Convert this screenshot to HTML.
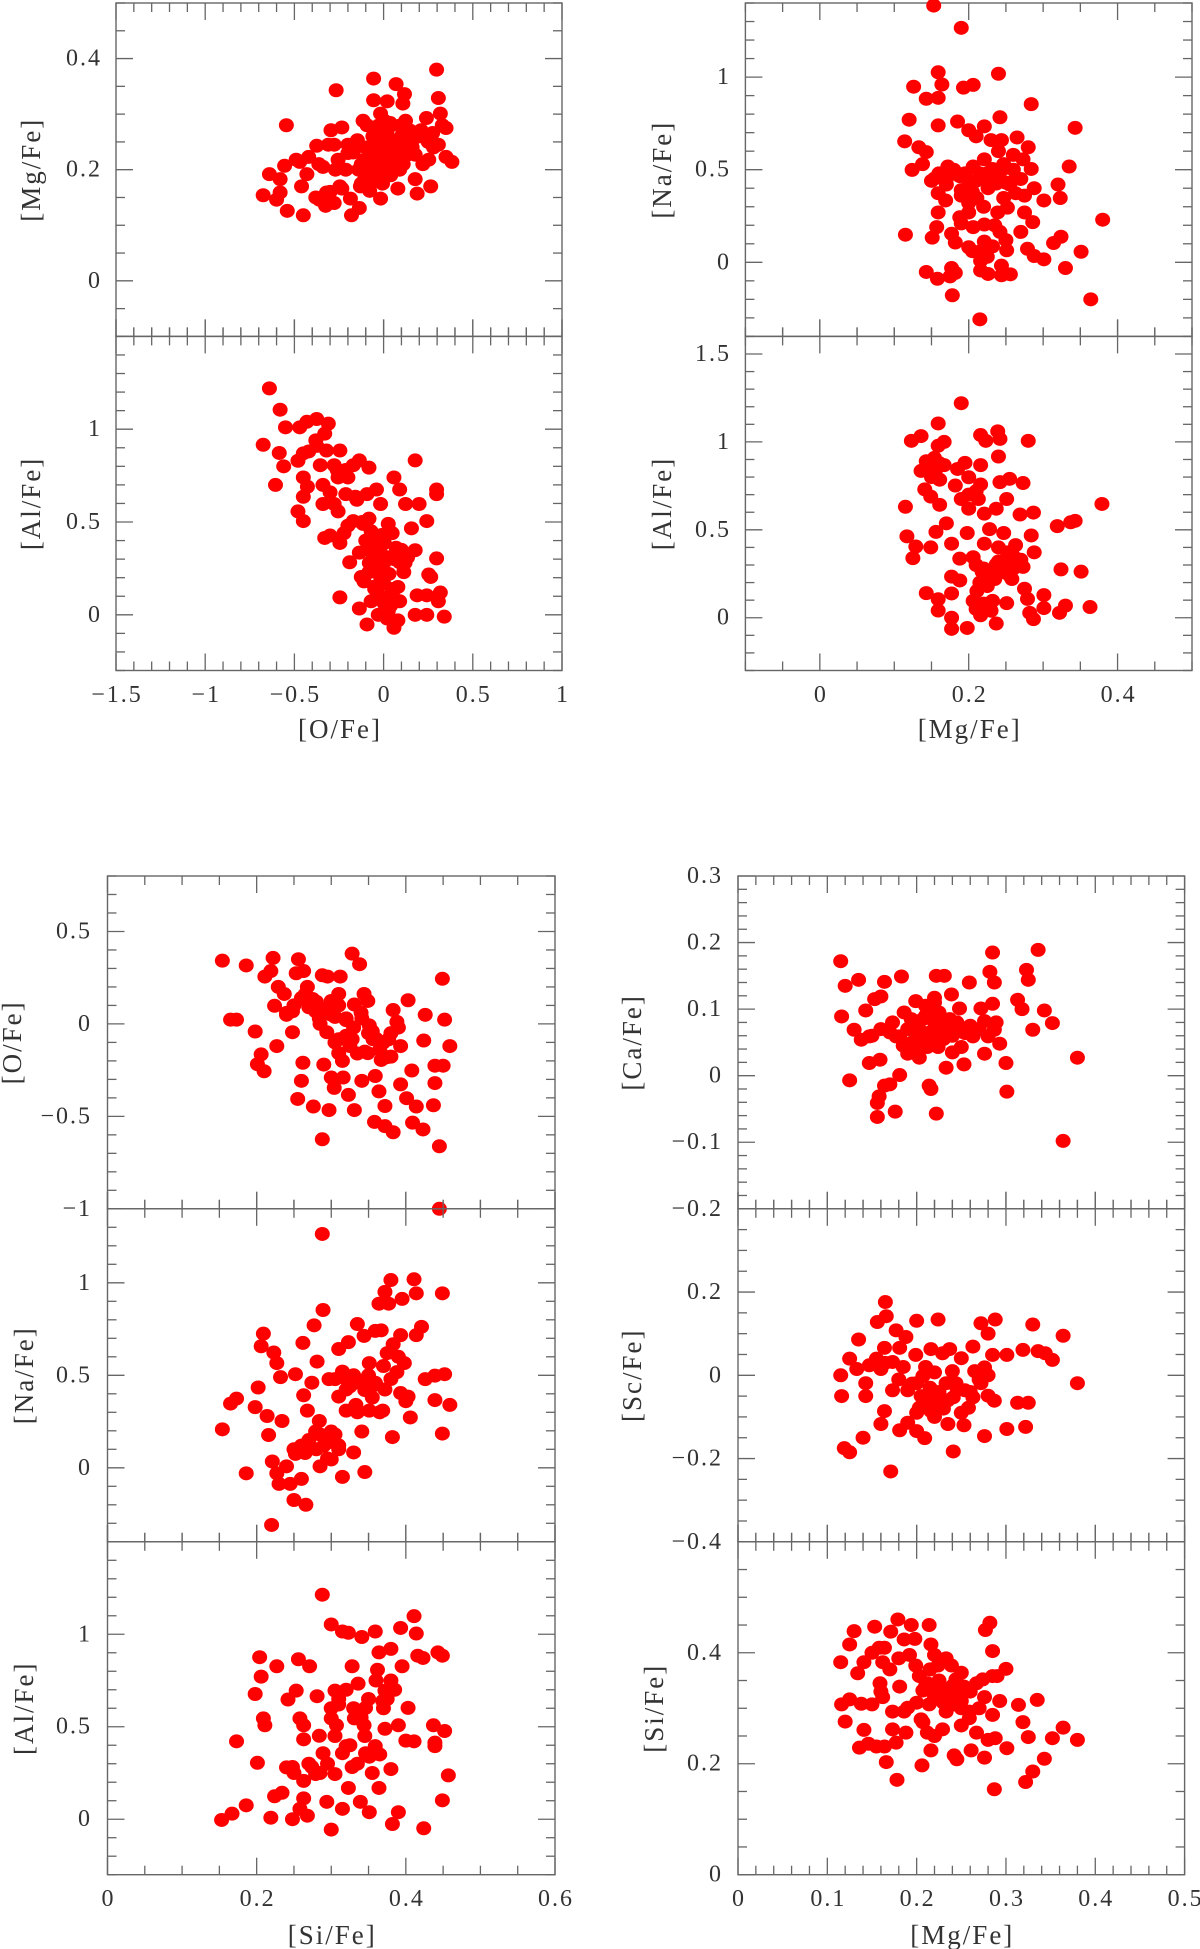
<!DOCTYPE html>
<html><head><meta charset="utf-8"><title>Abundance correlations</title>
<style>
html,body{margin:0;padding:0;background:#fff;}
svg{display:block;}
text{font-family:"Liberation Serif","DejaVu Serif",serif;fill:#333;}
.tl{font-size:24px;letter-spacing:2px;}
.tt{font-size:27px;letter-spacing:2px;}
</style></head>
<body>
<svg id="fig" width="1200" height="1949" viewBox="0 0 1200 1949" xmlns="http://www.w3.org/2000/svg"></svg>
<script>
// ---- data: [O/Fe] vs [Mg/Fe] ----
const p1x=[-0.675,-0.64,-0.58,-0.60,-0.58,-0.555,-0.545,-0.54,-0.47,-0.45,-0.46,-0.43,-0.49,-0.42,-0.375,-0.34,-0.36,-0.325,-0.32,-0.31,-0.295,-0.266,-0.277,-0.255,-0.234,-0.245,-0.212,-0.186,-0.18,-0.147,-0.136,-0.115,-0.104,-0.093,-0.078,-0.056,-0.056,-0.05,-0.04,-0.03,-0.017,-0.017,-0.006,0.004,0.02,0.026,0.048,0.07,0.08,0.09,0.108,0.117,0.123,0.134,0.156,0.177,0.188,0.21,0.24,0.253,0.264,0.275,0.297,0.307,0.307,0.318,0.329,0.35,0.35,0.383,-0.17,-0.125,-0.082,-0.07,0.004,0.037,0.058,0.1,0.134,0.177,-0.277,-0.2,-0.125,-0.05,0.015,0.09,0.004,-0.093,-0.234,-0.363,-0.1,-0.06,-0.02,0.02,0.06,0.1,-0.14,-0.08,-0.03,0.03,0.07,0.12,-0.11,-0.04,0.01,0.05,0.16,0.2,0.25,0.28,-0.3,-0.38,-0.27,-0.13,-0.01,0.04,0.11,0.22,-0.2,0.15];
const p1y=[0.154,0.192,0.183,0.146,0.159,0.207,0.28,0.126,0.214,0.118,0.17,0.192,0.218,0.223,0.243,0.205,0.146,0.135,0.159,0.245,0.271,0.343,0.14,0.218,0.276,0.17,0.2,0.148,0.118,0.253,0.131,0.288,0.218,0.183,0.162,0.364,0.325,0.245,0.21,0.279,0.301,0.148,0.175,0.245,0.323,0.21,0.253,0.354,0.166,0.279,0.319,0.336,0.288,0.227,0.249,0.183,0.157,0.271,0.293,0.218,0.17,0.266,0.38,0.329,0.245,0.301,0.28,0.275,0.223,0.214,0.231,0.21,0.227,0.197,0.288,0.284,0.218,0.245,0.262,0.227,0.245,0.245,0.175,0.266,0.192,0.2,0.227,0.28,0.166,0.21,0.24,0.26,0.23,0.27,0.23,0.26,0.2,0.21,0.19,0.2,0.24,0.25,0.18,0.18,0.26,0.22,0.24,0.26,0.25,0.24,0.16,0.15,0.2,0.17,0.22,0.19,0.21,0.21,0.23,0.27];
// ---- data: [O/Fe] vs [Al/Fe] ----
const p2x=[-0.64,-0.58,-0.55,-0.675,-0.585,-0.56,-0.606,-0.47,-0.43,-0.375,-0.31,-0.33,-0.48,-0.45,-0.375,-0.32,-0.355,-0.45,-0.427,-0.34,-0.45,-0.48,-0.45,-0.245,-0.277,-0.255,-0.277,-0.34,-0.255,-0.212,-0.17,-0.136,-0.082,-0.212,-0.158,-0.093,-0.04,-0.33,-0.3,-0.245,-0.222,-0.2,-0.17,-0.115,-0.082,-0.017,0.058,0.09,0.177,0.123,0.199,0.156,0.242,0.297,0.297,0.297,0.177,0.134,0.113,0.253,0.264,0.188,0.242,0.318,0.307,0.177,0.242,0.34,-0.245,-0.136,-0.093,0.058,0.08,0.026,-0.017,-0.07,-0.05,0.048,-0.125,-0.19,-0.136,-0.082,-0.04,0.004,0.048,0.004,0.07,0.09,0.026,-0.05,-0.082,-0.017,0.09,0.004,-0.1,-0.06,-0.02,0.02,0.06,-0.08,-0.03,0.03,0.1,-0.11,-0.05,0.0,0.05,0.12,-0.07,-0.01,0.04,0.08,-0.03,0.02,-0.12,-0.15,-0.2,-0.26,-0.38,-0.42,-0.3];
const p2y=[1.22,1.105,1.01,0.916,0.872,0.8,0.7,1.01,1.04,1.055,1.03,0.976,0.83,0.87,0.91,0.885,0.806,0.74,0.69,0.7,0.636,0.557,0.505,0.885,0.806,0.74,0.597,0.597,0.557,0.78,0.806,0.832,0.793,0.65,0.636,0.65,0.675,0.414,0.427,0.387,0.44,0.48,0.505,0.49,0.518,0.597,0.74,0.675,0.832,0.597,0.597,0.466,0.505,0.675,0.65,0.304,0.348,0.309,0.23,0.217,0.204,0.105,0.105,0.12,0.073,0,0,-0.01,0.094,0.034,-0.052,-0.07,-0.03,0.02,0.1,0.073,0.152,0.139,0.204,0.283,0.335,0.361,0.309,0.387,0.44,0.283,0.361,0.283,0.49,0.414,0.23,0.204,0.073,0.06,0.4,0.33,0.36,0.31,0.3,0.28,0.25,0.22,0.35,0.18,0.14,0.17,0.12,0.28,0.45,0.43,0.05,0.15,0.0,-0.02,0.5,0.62,0.74,0.78,0.94,0.88,0.66];
// ---- data: [Mg/Fe] vs [Na/Fe] ----
const p3x=[0.153,0.19,0.159,0.126,0.164,0.143,0.159,0.193,0.206,0.24,0.284,0.12,0.159,0.185,0.2,0.221,0.242,0.343,0.114,0.133,0.143,0.244,0.265,0.28,0.335,0.124,0.138,0.154,0.172,0.188,0.206,0.221,0.232,0.247,0.263,0.284,0.273,0.159,0.169,0.19,0.211,0.226,0.247,0.275,0.288,0.301,0.32,0.323,0.38,0.159,0.188,0.206,0.221,0.242,0.239,0.252,0.275,0.286,0.27,0.115,0.151,0.157,0.177,0.182,0.2,0.216,0.232,0.251,0.279,0.288,0.301,0.314,0.324,0.351,0.143,0.158,0.177,0.175,0.182,0.216,0.226,0.244,0.244,0.256,0.33,0.178,0.215,0.364,0.216,0.221,0.2,0.263,0.2,0.237,0.221,0.16,0.17,0.18,0.195,0.21,0.225,0.235,0.25,0.26,0.17,0.19,0.205,0.215,0.23,0.245,0.255,0.15,0.165,0.21,0.23,0.24,0.26,0.27,0.2,0.22,0.19,0.235,0.25,0.205,0.225];
const p3y=[1.386,1.266,1.026,0.948,0.96,0.883,0.888,0.943,0.958,1.018,0.854,0.77,0.739,0.76,0.713,0.734,0.783,0.726,0.653,0.621,0.595,0.66,0.674,0.621,0.517,0.499,0.53,0.452,0.517,0.465,0.517,0.556,0.504,0.53,0.452,0.504,0.556,0.373,0.334,0.36,0.347,0.4,0.347,0.36,0.4,0.334,0.42,0.347,0.23,0.269,0.243,0.19,0.204,0.164,0.269,0.295,0.269,0.217,0.164,0.149,0.133,0.19,0.154,0.107,0.081,0.06,0.086,0.065,0.073,0.034,0.016,0.104,0.138,0.057,-0.052,-0.089,-0.031,-0.076,-0.057,-0.044,-0.063,-0.018,-0.07,-0.065,-0.031,-0.178,-0.308,-0.2,0.008,0.112,0.269,0.373,0.412,0.425,0.452,0.48,0.45,0.5,0.48,0.44,0.48,0.46,0.43,0.5,0.42,0.39,0.38,0.48,0.43,0.5,0.42,0.44,0.47,0.68,0.66,0.6,0.58,0.45,0.32,0.3,0.21,0.2,0.12,0.06,0.03];
// ---- data: [Mg/Fe] vs [Al/Fe] ----
const p4x=[0.19,0.159,0.123,0.136,0.159,0.167,0.216,0.223,0.239,0.242,0.28,0.24,0.136,0.143,0.154,0.167,0.185,0.195,0.216,0.2,0.141,0.149,0.161,0.182,0.242,0.255,0.273,0.115,0.161,0.19,0.2,0.213,0.237,0.251,0.269,0.287,0.379,0.319,0.337,0.343,0.117,0.129,0.125,0.156,0.17,0.149,0.177,0.198,0.221,0.228,0.247,0.263,0.284,0.288,0.188,0.206,0.218,0.237,0.25,0.273,0.324,0.351,0.177,0.188,0.211,0.258,0.275,0.143,0.159,0.177,0.206,0.232,0.251,0.279,0.301,0.301,0.33,0.363,0.159,0.177,0.177,0.198,0.216,0.237,0.282,0.287,0.322,0.221,0.252,0.221,0.216,0.21,0.22,0.23,0.24,0.25,0.26,0.27,0.215,0.225,0.235,0.245,0.255,0.265,0.21,0.22,0.23,0.145,0.155,0.15,0.16,0.2,0.21,0.24,0.26];
const p4y=[1.22,1.105,1.006,1.033,0.978,1.0,1.039,1.006,1.06,1.017,1.006,0.917,0.835,0.89,0.909,0.868,0.846,0.881,0.868,0.799,0.73,0.689,0.785,0.752,0.771,0.79,0.766,0.631,0.642,0.675,0.62,0.675,0.62,0.675,0.587,0.598,0.647,0.521,0.543,0.551,0.463,0.405,0.339,0.488,0.537,0.4,0.421,0.482,0.421,0.504,0.482,0.413,0.468,0.372,0.336,0.344,0.262,0.303,0.317,0.289,0.275,0.262,0.234,0.212,0.152,0.22,0.165,0.14,0.105,0.138,0.096,0.096,0.083,0.107,0.129,0.055,0.069,0.061,0.041,0,-0.063,-0.058,0.014,-0.033,0.028,-0.008,0.028,0.041,0.372,0.592,0.758,0.3,0.28,0.25,0.32,0.3,0.28,0.33,0.2,0.18,0.22,0.26,0.24,0.3,0.05,0.08,0.04,0.85,0.82,0.8,0.88,0.7,0.72,0.4,0.35];
// ---- data: [Si/Fe] vs [O/Fe] ----
const p5x=[0.154,0.186,0.165,0.173,0.198,0.206,0.201,0.21,0.222,0.211,0.219,0.229,0.224,0.227,0.237,0.24,0.248,0.256,0.253,0.263,0.268,0.262,0.26,0.255,0.275,0.279,0.276,0.288,0.295,0.288,0.297,0.3,0.31,0.312,0.305,0.32,0.31,0.316,0.3,0.304,0.328,0.338,0.331,0.328,0.323,0.331,0.341,0.344,0.349,0.351,0.349,0.356,0.359,0.364,0.358,0.372,0.383,0.372,0.383,0.388,0.38,0.393,0.393,0.377,0.401,0.403,0.408,0.414,0.409,0.423,0.424,0.426,0.437,0.439,0.439,0.45,0.449,0.452,0.459,0.445,0.445,0.284,0.294,0.32,0.341,0.31,0.367,0.248,0.268,0.25,0.26,0.27,0.28,0.29,0.3,0.31,0.32,0.33,0.34,0.35,0.36,0.37,0.38,0.39,0.24,0.265,0.285,0.305,0.325,0.345,0.365,0.335,0.315,0.355,0.375,0.29,0.27];
const p5y=[0.342,0.316,0.023,0.023,-0.041,-0.165,-0.218,-0.256,0.357,0.256,0.286,0.2,0.098,-0.12,0.162,0.049,-0.045,0.35,0.274,0.286,0.2,-0.21,-0.308,-0.406,0.135,0.068,-0.447,0.263,0.256,-0.624,-0.466,0.124,0.162,0.256,0.038,0.03,-0.158,-0.29,-0.29,-0.346,0.38,0.323,0.105,-0.083,-0.384,-0.466,-0.308,0.162,0.124,-0.008,-0.158,-0.083,-0.282,-0.365,-0.53,-0.553,-0.586,-0.444,0.075,0.011,-0.177,-0.12,-0.327,-0.083,-0.402,0.128,-0.252,-0.447,-0.534,-0.571,-0.09,0.049,-0.44,-0.32,-0.226,-0.226,0.244,0.023,-0.12,-0.662,-1.0,0.03,-0.045,-0.064,0.03,-0.083,-0.195,0.068,0.124,0.1,0.14,0.09,0.12,0.08,0.05,0.1,0.02,-0.02,0.06,-0.05,-0.08,-0.1,-0.05,-0.02,0.06,0.16,0.0,-0.1,-0.12,-0.15,-0.14,-0.16,-0.2,-0.04,-0.18,-0.22,0.1,0.02];
// ---- data: [Si/Fe] vs [Na/Fe] ----
const p6x=[0.154,0.165,0.173,0.186,0.198,0.202,0.206,0.209,0.214,0.216,0.223,0.227,0.232,0.221,0.227,0.23,0.22,0.234,0.24,0.245,0.25,0.266,0.26,0.252,0.263,0.252,0.262,0.263,0.268,0.277,0.281,0.289,0.288,0.274,0.284,0.292,0.285,0.3,0.305,0.31,0.315,0.323,0.32,0.328,0.335,0.333,0.33,0.345,0.344,0.341,0.359,0.367,0.364,0.372,0.38,0.377,0.395,0.411,0.414,0.414,0.421,0.393,0.398,0.383,0.388,0.372,0.382,0.406,0.403,0.393,0.426,0.439,0.452,0.439,0.459,0.449,0.449,0.351,0.359,0.369,0.351,0.31,0.297,0.341,0.3,0.31,0.279,0.32,0.26,0.27,0.28,0.29,0.3,0.31,0.32,0.33,0.34,0.35,0.36,0.37,0.38,0.25,0.265,0.285,0.295,0.305,0.315,0.325,0.335,0.345,0.355,0.365,0.375,0.39,0.4];
const p6y=[0.208,0.347,0.374,-0.03,0.328,0.434,0.657,0.725,0.28,0.177,0.623,0.566,0.49,0.034,-0.03,-0.087,-0.309,0.253,0.008,-0.087,-0.174,-0.2,-0.06,0.075,0.121,0.506,0.675,0.392,0.309,0.77,0.574,0.853,1.264,0.46,0.253,0.158,0.008,0.045,0.479,0.642,-0.049,0.679,0.309,0.453,0.777,0.34,0.083,-0.023,0.713,0.196,0.74,0.743,0.887,0.951,1.015,0.887,0.913,1.019,0.943,0.717,0.762,0.717,0.566,0.668,0.517,0.423,0.166,0.272,0.385,0.404,0.479,0.498,0.506,0.366,0.34,0.185,0.943,0.566,0.46,0.309,0.309,0.385,0.479,0.46,0.196,0.121,0.196,0.423,0.12,0.15,0.1,0.12,0.14,0.1,0.48,0.5,0.47,0.5,0.45,0.55,0.48,0.1,0.08,0.18,0.05,0.18,0.52,0.44,0.3,0.42,0.38,0.3,0.62,0.6,0.36];
// ---- data: [Si/Fe] vs [Al/Fe] ----
const p7x=[0.153,0.167,0.173,0.186,0.198,0.204,0.206,0.209,0.211,0.201,0.219,0.224,0.227,0.234,0.242,0.248,0.253,0.256,0.258,0.263,0.263,0.263,0.268,0.271,0.274,0.279,0.281,0.288,0.289,0.294,0.3,0.3,0.305,0.307,0.315,0.323,0.32,0.315,0.323,0.328,0.328,0.336,0.341,0.344,0.339,0.346,0.351,0.359,0.359,0.364,0.362,0.369,0.372,0.38,0.382,0.38,0.393,0.395,0.39,0.39,0.403,0.4,0.411,0.414,0.411,0.416,0.423,0.424,0.437,0.439,0.439,0.443,0.449,0.449,0.452,0.457,0.31,0.331,0.351,0.3,0.284,0.315,0.346,0.305,0.248,0.263,0.364,0.372,0.258,0.3,0.31,0.32,0.33,0.34,0.35,0.36,0.37,0.38,0.305,0.325,0.345,0.365,0.375,0.295,0.335,0.355,0.385,0.27,0.285,0.24,0.25];
const p7y=[-0.004,0.03,0.421,0.075,0.677,0.876,0.771,0.545,0.508,0.305,0.008,0.124,0.827,0.143,0.647,0,0.695,0.865,0.545,0.432,0.508,0.113,0.019,0.827,0.282,0.244,0.665,1.214,0.357,0.094,-0.056,1.053,0.695,0.508,1.015,1.008,0.395,0.056,0.169,0.282,0.827,0.733,0.985,0.508,0.094,0.602,0.038,0.395,1.015,0.902,0.808,0.639,0.489,0.271,-0.026,0.921,1.034,0.827,0.508,0.038,0.602,0.425,1.098,1.004,0.421,0.884,0.872,-0.049,0.508,0.395,0.414,0.902,0.884,0.102,0.477,0.237,0.62,0.545,0.338,0.545,0.451,0.357,0.357,0.244,0.282,0.207,0.169,0.695,0.056,0.6,0.65,0.7,0.6,0.55,0.65,0.75,0.6,0.75,0.45,0.4,0.45,0.35,0.65,0.3,0.3,0.25,0.7,0.3,0.25,0.28,0.25];
// ---- data: [Mg/Fe] vs [Ca/Fe] ----
const p8x=[0.115,0.12,0.116,0.125,0.135,0.143,0.13,0.147,0.156,0.156,0.158,0.164,0.17,0.176,0.181,0.159,0.164,0.16,0.153,0.183,0.186,0.177,0.19,0.203,0.214,0.216,0.222,0.222,0.231,0.22,0.212,0.203,0.194,0.216,0.229,0.233,0.239,0.248,0.242,0.253,0.259,0.272,0.276,0.276,0.282,0.285,0.287,0.285,0.289,0.293,0.3,0.301,0.313,0.318,0.323,0.325,0.33,0.336,0.343,0.352,0.364,0.38,0.199,0.207,0.22,0.212,0.224,0.181,0.173,0.147,0.138,0.254,0.263,0.28,0.287,0.25,0.237,0.199,0.19,0.2,0.21,0.22,0.23,0.24,0.195,0.205,0.215,0.225,0.235,0.245,0.26,0.27,0.16,0.17,0.185,0.2,0.21,0.22,0.23,0.24,0.15];
const p8y=[0.172,0.135,0.089,-0.007,0.144,0.098,0.069,0.019,-0.041,-0.062,-0.031,-0.015,-0.013,-0.054,0.001,0.024,0.141,0.119,0.115,0.149,0.095,0.059,0.033,0.027,-0.015,-0.02,-0.057,0.15,0.15,0.117,0.101,0.069,0.085,0.059,0.075,0.012,0.122,0.101,0.064,0.017,0.14,0.101,0.082,0.033,0.156,0.185,0.14,0.108,0.08,0.048,0.019,-0.024,0.114,0.1,0.159,0.144,0.069,0.189,0.098,0.079,-0.098,0.027,0.064,0.085,0.08,0.043,0.043,0.059,0.08,0.059,0.054,0.064,0.059,0.059,0.069,0.043,0.085,0.112,0.07,0.075,0.09,0.07,0.085,0.06,0.05,0.06,0.065,0.095,0.07,0.08,0.075,0.07,0.07,0.065,0.045,0.045,0.105,0.11,0.055,0.035,0.06];
// ---- data: [Mg/Fe] vs [Sc/Fe] ----
const p9x=[0.115,0.116,0.119,0.125,0.125,0.135,0.133,0.143,0.143,0.14,0.156,0.165,0.166,0.164,0.16,0.16,0.164,0.171,0.177,0.188,0.181,0.181,0.19,0.2,0.199,0.2,0.2,0.209,0.214,0.216,0.224,0.22,0.227,0.229,0.235,0.241,0.237,0.244,0.25,0.253,0.258,0.263,0.272,0.28,0.288,0.276,0.28,0.287,0.276,0.285,0.301,0.301,0.319,0.313,0.325,0.322,0.33,0.336,0.344,0.352,0.364,0.38,0.173,0.19,0.207,0.207,0.22,0.233,0.241,0.254,0.263,0.272,0.216,0.203,0.147,0.173,0.18,0.195,0.205,0.215,0.225,0.235,0.245,0.26,0.27,0.185,0.21,0.23,0.25,0.265,0.155,0.165,0.28,0.2,0.22,0.24];
const p9y=[0,-0.05,-0.175,-0.185,0.04,0.086,0.015,-0.019,-0.05,-0.15,0.128,0.176,0.142,0.066,0.015,-0.117,-0.086,-0.231,0.108,0.092,0.066,-0.132,-0.114,0.131,0.049,-0.019,-0.134,-0.151,-0.058,0.063,0.134,0.007,-0.069,0.053,-0.117,-0.183,0.063,-0.019,0.041,-0.12,-0.078,0.069,0.125,0.1,0.134,0.019,-0.049,-0.061,-0.146,0.049,0.049,-0.129,0.061,-0.066,-0.066,-0.124,0.122,0.058,0.053,0.037,0.095,-0.019,-0.036,-0.036,-0.002,-0.069,-0.053,-0.019,-0.053,-0.036,-0.053,-0.019,-0.086,-0.078,0.024,0.032,-0.01,-0.02,-0.05,-0.03,-0.04,-0.06,-0.03,-0.04,-0.01,0.02,0.02,-0.08,-0.09,0.01,0.04,0.03,0.0,-0.09,-0.1,0.01];
// ---- data: [Mg/Fe] vs [Si/Fe] ----
const p10x=[0.115,0.125,0.13,0.116,0.125,0.12,0.134,0.141,0.138,0.141,0.136,0.146,0.15,0.153,0.158,0.164,0.162,0.159,0.162,0.155,0.164,0.166,0.171,0.179,0.178,0.177,0.181,0.186,0.194,0.198,0.192,0.19,0.188,0.173,0.186,0.206,0.207,0.214,0.216,0.22,0.224,0.216,0.22,0.214,0.229,0.233,0.239,0.244,0.25,0.253,0.25,0.242,0.245,0.261,0.25,0.259,0.267,0.274,0.276,0.276,0.277,0.282,0.285,0.285,0.29,0.293,0.285,0.28,0.288,0.3,0.301,0.314,0.319,0.325,0.335,0.322,0.33,0.343,0.352,0.364,0.38,0.287,0.207,0.22,0.233,0.259,0.203,0.199,0.212,0.229,0.242,0.267,0.212,0.173,0.2,0.21,0.22,0.23,0.24,0.25,0.215,0.225,0.235,0.245,0.205,0.26,0.27,0.17,0.18,0.16,0.15];
const p10y=[0.383,0.415,0.439,0.307,0.316,0.276,0.363,0.383,0.308,0.261,0.229,0.236,0.307,0.447,0.409,0.409,0.383,0.345,0.32,0.231,0.231,0.203,0.438,0.46,0.171,0.238,0.339,0.424,0.45,0.425,0.396,0.301,0.256,0.262,0.294,0.197,0.275,0.45,0.415,0.396,0.377,0.224,0.25,0.307,0.262,0.39,0.377,0.352,0.364,0.339,0.313,0.215,0.208,0.224,0.269,0.282,0.345,0.352,0.32,0.211,0.441,0.454,0.403,0.358,0.358,0.313,0.288,0.243,0.246,0.371,0.228,0.306,0.275,0.248,0.315,0.167,0.186,0.209,0.246,0.265,0.243,0.154,0.332,0.32,0.294,0.294,0.358,0.377,0.345,0.332,0.307,0.256,0.256,0.294,0.31,0.34,0.33,0.31,0.34,0.3,0.37,0.35,0.32,0.33,0.28,0.33,0.3,0.37,0.39,0.33,0.4];

const NS='http://www.w3.org/2000/svg';
const svg=document.getElementById('fig');
function mk(tag,attrs,parent){const e=document.createElementNS(NS,tag);for(const k in attrs)e.setAttribute(k,attrs[k]);(parent||svg).appendChild(e);return e;}
function fmt(v){const s=(Math.round(v*100)/100).toString();return v<0?'\u2212'+s.replace('-',''):s;}

function panel(o){
  const g=mk('g',{});
  
  
  const sx=v=>o.x0+(v-o.xmin)/(o.xmax-o.xmin)*(o.x1-o.x0);
  const sy=v=>o.y1-(v-o.ymin)/(o.ymax-o.ymin)*(o.y1-o.y0);
  const frame=mk('rect',{x:o.x0,y:o.y0,width:o.x1-o.x0,height:o.y1-o.y0,fill:'none',stroke:'#666','stroke-width':1.4},g);
  
  
  const st={stroke:'#666','stroke-width':1.3};
  const eps=1e-6;
  const nx=Math.round((o.xmax-o.xmin)/o.xminor);
  for(let i=0;i<=nx;i++){
    const v=o.xmin+i*o.xminor;const X=sx(v);
    const maj=Math.abs(v/o.xmajor-Math.round(v/o.xmajor))<eps;
    const L=maj?17:9;
    mk('line',Object.assign({x1:X,x2:X,y1:o.y1,y2:o.y1-L},st),g);
    mk('line',Object.assign({x1:X,x2:X,y1:o.y0,y2:o.y0+L},st),g);
    if(o.bothTop) mk('line',Object.assign({x1:X,x2:X,y1:o.y0,y2:o.y0-L},st),g);
  }
  const ny=Math.round((o.ymax-o.ymin)/o.yminor);
  for(let i=0;i<=ny;i++){
    const v=o.ymin+i*o.yminor;const Y=sy(v);
    const maj=Math.abs(v/o.ymajor-Math.round(v/o.ymajor))<eps;
    const L=maj?17:9;
    mk('line',Object.assign({x1:o.x0,x2:o.x0+L,y1:Y,y2:Y},st),g);
    mk('line',Object.assign({x1:o.x1,x2:o.x1-L,y1:Y,y2:Y},st),g);
  }
  o.ylabels.forEach(v=>{
    const t=mk('text',{x:o.ylx,y:sy(v),'text-anchor':'end','dominant-baseline':'central',class:'tl'},g);
    t.textContent=fmt(v);
    
    
  });
  if(o.xlabels){o.xlabels.forEach(v=>{
    const t=mk('text',{x:sx(v)+1,y:o.xly,'text-anchor':'middle','dominant-baseline':'central',class:'tl'},g);
    t.textContent=fmt(v);
    
    
  });}
  const yc=(o.y0+o.y1)/2;
  const yt=mk('text',{x:o.ytx,y:yc,'text-anchor':'middle','dominant-baseline':'central',class:'tt',transform:'rotate(-90 '+o.ytx+' '+yc+')'},g);
  yt.textContent=o.ytitle;
  
  
  if(o.xtitle){
    const xt=mk('text',{x:(o.x0+o.x1)/2+1,y:o.xty,'text-anchor':'middle','dominant-baseline':'central',class:'tt'},g);
    xt.textContent=o.xtitle;
    
    
  }
  for(let i=0;i<o.xs.length;i++){
    const c=mk('ellipse',{cx:sx(o.xs[i]),cy:sy(o.ys[i]),rx:7.5,ry:7,fill:'#ff0000'},g);
    
    
  }
}

const TL={x0:116,x1:562,xmin:-1.5,xmax:1,xmajor:0.5,xminor:0.1,ylx:102,ytx:31};
panel(Object.assign({},TL,{name:'panel-mg-vs-o',y0:3,y1:336.4,ymin:-0.1,ymax:0.5,ymajor:0.2,yminor:0.05,ylabels:[0,0.2,0.4],ytitle:'[Mg/Fe]',xs:p1x,ys:p1y}));
panel(Object.assign({},TL,{name:'panel-al-vs-o',y0:336.4,y1:670.5,ymin:-0.3,ymax:1.5,ymajor:0.5,yminor:0.1,ylabels:[0,0.5,1],ytitle:'[Al/Fe]',xs:p2x,ys:p2y,bothTop:true,xlabels:[-1.5,-1,-0.5,0,0.5,1],xly:695,xtitle:'[O/Fe]',xty:729}));
const TR={x0:745.4,x1:1192,xmin:-0.1,xmax:0.5,xmajor:0.2,xminor:0.05,ylx:731,ytx:662};
panel(Object.assign({},TR,{name:'panel-na-vs-mg',y0:3,y1:336.4,ymin:-0.4,ymax:1.4,ymajor:0.5,yminor:0.1,ylabels:[0,0.5,1],ytitle:'[Na/Fe]',xs:p3x,ys:p3y}));
panel(Object.assign({},TR,{name:'panel-al-vs-mg',y0:336.4,y1:670.5,ymin:-0.3,ymax:1.6,ymajor:0.5,yminor:0.1,ylabels:[0,0.5,1,1.5],ytitle:'[Al/Fe]',xs:p4x,ys:p4y,bothTop:true,xlabels:[0,0.2,0.4],xly:695,xtitle:'[Mg/Fe]',xty:729}));
const BL={x0:107.5,x1:555,xmin:0,xmax:0.6,xmajor:0.2,xminor:0.05,ylx:92,ytx:0};
panel(Object.assign({},BL,{name:'panel-o-vs-si',y0:876,y1:1208.8,ymin:-1,ymax:0.8,ymajor:0.5,yminor:0.1,ylabels:[-1,-0.5,0,0.5],ytitle:'[O/Fe]',ytx:12,xs:p5x,ys:p5y}));
panel(Object.assign({},BL,{name:'panel-na-vs-si',y0:1208.8,y1:1541.8,ymin:-0.4,ymax:1.4,ymajor:0.5,yminor:0.1,ylabels:[0,0.5,1],ytitle:'[Na/Fe]',ytx:24,xs:p6x,ys:p6y,bothTop:true}));
panel(Object.assign({},BL,{name:'panel-al-vs-si',y0:1541.8,y1:1874.7,ymin:-0.3,ymax:1.5,ymajor:0.5,yminor:0.1,ylabels:[0,0.5,1],ytitle:'[Al/Fe]',ytx:24,xs:p7x,ys:p7y,bothTop:true,xlabels:[0,0.2,0.4,0.6],xly:1899,xtitle:'[Si/Fe]',xty:1935}));
const BR={x0:738,x1:1184.6,xmin:0,xmax:0.5,xmajor:0.1,xminor:0.02,ylx:723};
panel(Object.assign({},BR,{name:'panel-ca-vs-mg',y0:876,y1:1208.8,ymin:-0.2,ymax:0.3,ymajor:0.1,yminor:0.02,ylabels:[-0.2,-0.1,0,0.1,0.2,0.3],ytitle:'[Ca/Fe]',ytx:632,xs:p8x,ys:p8y}));
panel(Object.assign({},BR,{name:'panel-sc-vs-mg',y0:1208.8,y1:1541.8,ymin:-0.4,ymax:0.4,ymajor:0.2,yminor:0.05,ylabels:[-0.4,-0.2,0,0.2],ytitle:'[Sc/Fe]',ytx:632,xs:p9x,ys:p9y,bothTop:true}));
panel(Object.assign({},BR,{name:'panel-si-vs-mg',y0:1541.8,y1:1874.7,ymin:0,ymax:0.6,ymajor:0.2,yminor:0.05,ylabels:[0,0.2,0.4],ytitle:'[Si/Fe]',ytx:654,xs:p10x,ys:p10y,bothTop:true,xlabels:[0,0.1,0.2,0.3,0.4,0.5],xly:1899,xtitle:'[Mg/Fe]',xty:1935}));
</script>
</body></html>
